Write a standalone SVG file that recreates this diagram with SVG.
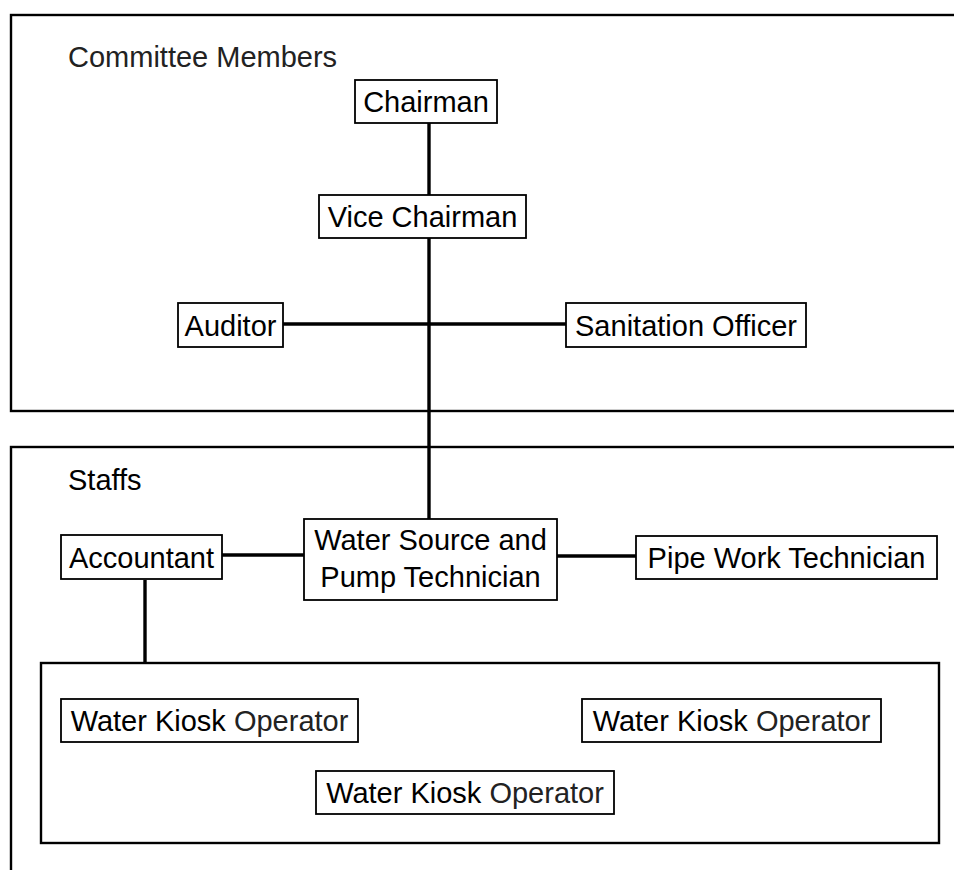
<svg xmlns="http://www.w3.org/2000/svg" width="954" height="870" viewBox="0 0 954 870">
  <style>
    .frame { fill: none; stroke: #000; stroke-width: 2.4; }
    .box { fill: #fff; stroke: #000; stroke-width: 1.8; }
    .lbl { font-family: "Liberation Sans", Arial, sans-serif; font-size: 29px; fill: #000; }
    .ctr { text-anchor: middle; }
    .soft { fill: #222; }
    .link { stroke: #000; stroke-width: 3.4; fill: none; }
  </style>
  <rect width="954" height="870" fill="#fff"/>

  <!-- section frames -->
  <g id="committee-section">
    <rect class="frame" x="11" y="15" width="960" height="396"/>
    <text class="lbl soft" x="68" y="67">Committee Members</text>
  </g>
  <g id="staff-section">
    <rect class="frame" x="11" y="447" width="960" height="440"/>
    <text class="lbl" x="68" y="490">Staffs</text>
  </g>
  <g id="kiosk-group">
    <rect class="frame" x="41" y="663" width="898" height="180"/>
  </g>

  <!-- connectors -->
  <g id="connectors">
    <line class="link" x1="429" y1="123" x2="429" y2="195"/>
    <line class="link" x1="429" y1="238" x2="429" y2="519"/>
    <line class="link" x1="283" y1="324" x2="566" y2="324"/>
    <line class="link" x1="222" y1="555" x2="304" y2="555"/>
    <line class="link" x1="557" y1="556" x2="636" y2="556"/>
    <line class="link" x1="145" y1="580" x2="145" y2="663"/>
  </g>

  <!-- nodes -->
  <g id="chairman">
    <rect class="box" x="355" y="80" width="142" height="43"/>
    <text class="lbl ctr" x="426" y="112">Chairman</text>
  </g>
  <g id="vice-chairman">
    <rect class="box" x="319" y="195" width="207" height="43"/>
    <text class="lbl ctr" x="422.5" y="227">Vice Chairman</text>
  </g>
  <g id="auditor">
    <rect class="box" x="178" y="303" width="105" height="44"/>
    <text class="lbl ctr" x="230.5" y="336">Auditor</text>
  </g>
  <g id="sanitation-officer">
    <rect class="box" x="566" y="303" width="240" height="44"/>
    <text class="lbl ctr" x="686" y="336">Sanitation Officer</text>
  </g>
  <g id="accountant">
    <rect class="box" x="61" y="535" width="161" height="44"/>
    <text class="lbl ctr" x="141.5" y="568">Accountant</text>
  </g>
  <g id="water-source-technician">
    <rect class="box" x="304" y="519" width="253" height="81"/>
    <text class="lbl ctr" x="430.5" y="550">Water Source and</text>
    <text class="lbl ctr" x="430.5" y="587">Pump Technician</text>
  </g>
  <g id="pipe-work-technician">
    <rect class="box" x="636" y="536" width="301" height="43"/>
    <text class="lbl ctr" x="786.5" y="568">Pipe Work Technician</text>
  </g>
  <g id="kiosk-operator-1">
    <rect class="box" x="61" y="699" width="297" height="43"/>
    <text class="lbl ctr" x="209.5" y="731">Water Kiosk <tspan class="soft">Operator</tspan></text>
  </g>
  <g id="kiosk-operator-2">
    <rect class="box" x="582" y="699" width="299" height="43"/>
    <text class="lbl ctr" x="731.5" y="731">Water Kiosk <tspan class="soft">Operator</tspan></text>
  </g>
  <g id="kiosk-operator-3">
    <rect class="box" x="316" y="771" width="298" height="43"/>
    <text class="lbl ctr" x="465" y="803">Water Kiosk <tspan class="soft">Operator</tspan></text>
  </g>
</svg>
